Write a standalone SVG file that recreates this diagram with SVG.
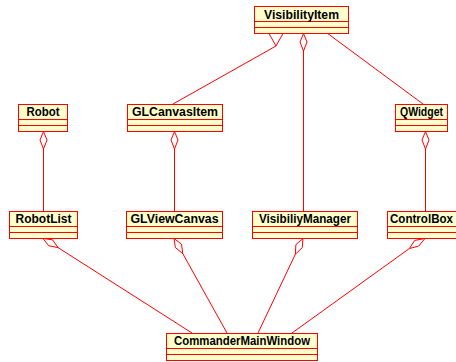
<svg xmlns="http://www.w3.org/2000/svg" width="456" height="362" viewBox="0 0 456 362">
<style>
.box{fill:#FFFFCC;stroke:#FF0000;stroke-width:1}
.div{stroke:#FF0000;stroke-width:1}
.t{font-family:"Liberation Sans",Arial,sans-serif;font-weight:bold;font-size:12px;fill:#000;text-anchor:middle}
.c{stroke:#FF0000;stroke-width:1;fill:none}
.d{stroke:#FF0000;stroke-width:1;fill:#FFFFFF}
</style>
<rect width="456" height="362" fill="#FFFFFF"/>
<g id="connectors">
  <line class="c" x1="276" y1="46" x2="173" y2="104"/>
  <polygon class="d" points="269,33.5 283,33.5 276,46"/>
  <line class="c" x1="327" y1="33" x2="423" y2="104"/>
  <line class="c" x1="303.5" y1="51" x2="303.5" y2="211"/>
  <polygon class="d" points="303.5,33.5 307,42 303.5,51 300,42"/>
  <line class="c" x1="43.5" y1="149" x2="43.5" y2="211"/>
  <polygon class="d" points="43.5,131.5 47,140 43.5,149 40,140"/>
  <line class="c" x1="174.5" y1="149" x2="174.5" y2="211"/>
  <polygon class="d" points="174.5,131.5 178,140 174.5,149 171,140"/>
  <line class="c" x1="425.5" y1="149" x2="425.5" y2="211"/>
  <polygon class="d" points="425.5,131.5 429,140 425.5,149 422,140"/>
  <line class="c" x1="58.2" y1="247.7" x2="192" y2="333"/>
  <polygon class="d" points="43,238.5 52.5,239.8 58.2,247.7 48.7,245.7"/>
  <line class="c" x1="182.8" y1="253.7" x2="227" y2="333"/>
  <polygon class="d" points="174,238.5 181.5,244.2 182.8,253.7 175.4,247.6"/>
  <line class="c" x1="295.3" y1="254.3" x2="258" y2="333"/>
  <polygon class="d" points="303,238.5 302.3,247.6 295.3,254.3 295.9,244.6"/>
  <line class="c" x1="409.4" y1="248.5" x2="292" y2="333"/>
  <polygon class="d" points="425,238.5 418.7,246.1 409.4,248.5 414.7,240.4"/>
</g>
<g id="VisibilityItem">
  <rect class="box" x="254.5" y="6.5" width="94" height="27"/>
  <line class="div" x1="254.5" y1="21.5" x2="348.5" y2="21.5"/>
  <line class="div" x1="254.5" y1="27.5" x2="348.5" y2="27.5"/>
  <text class="t" x="301.5" y="18.5" textLength="75" lengthAdjust="spacingAndGlyphs">VisibilityItem</text>
</g>
<g id="Robot">
  <rect class="box" x="18.5" y="104.5" width="49" height="27"/>
  <line class="div" x1="18.5" y1="119.5" x2="67.5" y2="119.5"/>
  <line class="div" x1="18.5" y1="125.5" x2="67.5" y2="125.5"/>
  <text class="t" x="43" y="115.5" textLength="33" lengthAdjust="spacingAndGlyphs">Robot</text>
</g>
<g id="GLCanvasItem">
  <rect class="box" x="127.5" y="104.5" width="95" height="27"/>
  <line class="div" x1="127.5" y1="119.5" x2="222.5" y2="119.5"/>
  <line class="div" x1="127.5" y1="125.5" x2="222.5" y2="125.5"/>
  <text class="t" x="175" y="115.5" textLength="86" lengthAdjust="spacingAndGlyphs">GLCanvasItem</text>
</g>
<g id="QWidget">
  <rect class="box" x="395.5" y="104.5" width="52" height="27"/>
  <line class="div" x1="395.5" y1="119.5" x2="447.5" y2="119.5"/>
  <line class="div" x1="395.5" y1="125.5" x2="447.5" y2="125.5"/>
  <text class="t" x="421.5" y="115.5" textLength="43" lengthAdjust="spacingAndGlyphs">QWidget</text>
</g>
<g id="RobotList">
  <rect class="box" x="9.5" y="211.5" width="68" height="27"/>
  <line class="div" x1="9.5" y1="226.5" x2="77.5" y2="226.5"/>
  <line class="div" x1="9.5" y1="232.5" x2="77.5" y2="232.5"/>
  <text class="t" x="43.5" y="222.5" textLength="56" lengthAdjust="spacingAndGlyphs">RobotList</text>
</g>
<g id="GLViewCanvas">
  <rect class="box" x="126.5" y="211.5" width="96" height="27"/>
  <line class="div" x1="126.5" y1="226.5" x2="222.5" y2="226.5"/>
  <line class="div" x1="126.5" y1="232.5" x2="222.5" y2="232.5"/>
  <text class="t" x="174.5" y="222.5" textLength="88" lengthAdjust="spacingAndGlyphs">GLViewCanvas</text>
</g>
<g id="VisibiliyManager">
  <rect class="box" x="252.5" y="211.5" width="105" height="27"/>
  <line class="div" x1="252.5" y1="226.5" x2="357.5" y2="226.5"/>
  <line class="div" x1="252.5" y1="232.5" x2="357.5" y2="232.5"/>
  <text class="t" x="305" y="222.5" textLength="92" lengthAdjust="spacingAndGlyphs">VisibiliyManager</text>
</g>
<g id="ControlBox">
  <rect class="box" x="387.5" y="211.5" width="78" height="27"/>
  <line class="div" x1="387.5" y1="226.5" x2="465.5" y2="226.5"/>
  <line class="div" x1="387.5" y1="232.5" x2="465.5" y2="232.5"/>
  <text class="t" x="421.5" y="222.5" textLength="63" lengthAdjust="spacingAndGlyphs">ControlBox</text>
</g>
<g id="CommanderMainWindow">
  <rect class="box" x="166.5" y="333.5" width="151" height="27"/>
  <line class="div" x1="166.5" y1="348.5" x2="317.5" y2="348.5"/>
  <line class="div" x1="166.5" y1="354.5" x2="317.5" y2="354.5"/>
  <text class="t" x="242" y="344.5" textLength="136" lengthAdjust="spacingAndGlyphs">CommanderMainWindow</text>
</g>
</svg>
